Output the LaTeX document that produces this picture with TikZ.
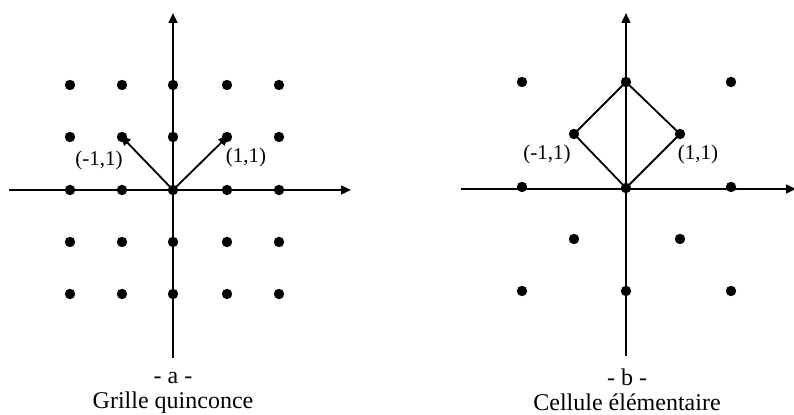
\documentclass[tikz,border=0pt]{standalone}
\usepackage{fontspec}
\setmainfont{Liberation Serif}
\usetikzlibrary{arrows.meta}
\tikzset{
  dot/.style={circle,fill=black,inner sep=0pt,minimum size=5.2pt},
  axis/.style={line width=1pt,-{Triangle[length=5pt,width=4.4pt]}},
  vec/.style={line width=0.9pt,-{Triangle[length=5pt,width=4.4pt]},shorten >=-1pt},
  cell/.style={line width=0.9pt},
  lbl/.style={font=\fontsize{10.5pt}{12pt}\selectfont,inner sep=0pt},
  captxt/.style={font=\fontsize{12pt}{14pt}\selectfont,inner sep=0pt}
}
\begin{document}
\begin{tikzpicture}[x=0.5pt,y=-0.5pt]
\useasboundingbox (0,0) rectangle (794,415);
% ---------- left panel ----------
\coordinate (La) at (9,190);
\coordinate (Lb) at (351,190);
\coordinate (Lc) at (173,358);
\coordinate (Ld) at (173,13);
\draw[axis] (La) -- (Lb);
\draw[axis] (Lc) -- (Ld);
\foreach \i/\x in {1/70,2/122,3/173,4/227,5/279}{
  \foreach \j/\y in {1/85,2/137,3/190,4/242,5/294}{
    \node[dot] (g\i\j) at (\x,\y) {};
  }
}
\draw[vec] (g33.center) -- (g22.center);
\draw[vec] (g33.center) -- (g42.center);
\node[lbl] (la1) at (99,160) {(-1,1)};
\node[lbl] (la2) at (246,157) {(1,1)};
\node[captxt] (ca1) at (173,378) {- a -};
\node[captxt] (ca2) at (173,403) {Grille quinconce};
% ---------- right panel ----------
\coordinate (Ra) at (461,189);
\coordinate (Rb) at (796,189);
\coordinate (Rc) at (626,356);
\coordinate (Rd) at (626,13);
\draw[axis] (Ra) -- (Rb);
\draw[axis] (Rc) -- (Rd);
\node[dot] (h11) at (522,82) {};
\node[dot] (h31) at (626,82) {};
\node[dot] (h51) at (731,82) {};
\node[dot] (h22) at (574,134) {};
\node[dot] (h42) at (680,134) {};
\node[dot] (h13) at (522,187) {};
\node[dot] (h33) at (626,188) {};
\node[dot] (h53) at (731,187) {};
\node[dot] (h24) at (574,239) {};
\node[dot] (h44) at (680,239) {};
\node[dot] (h15) at (522,291) {};
\node[dot] (h35) at (626,291) {};
\node[dot] (h55) at (731,291) {};
\draw[cell] (h31.center) -- (h22.center) -- (h33.center) -- (h42.center) -- cycle;
\node[lbl] (lb1) at (547,154) {(-1,1)};
\node[lbl] (lb2) at (698,154) {(1,1)};
\node[captxt] (cb1) at (627,377) {- b -};
\node[captxt] (cb2) at (627,402) {Cellule élémentaire};
\end{tikzpicture}
\end{document}
